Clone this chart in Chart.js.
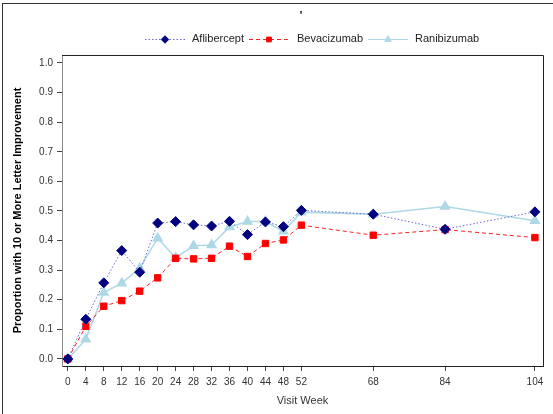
<!DOCTYPE html>
<html>
<head>
<meta charset="utf-8">
<script src="https://cdn.jsdelivr.net/npm/chart.js@4"></script>
<style>
  html, body { margin: 0; padding: 0; background: #fff; }
  #wrap { position: relative; width: 553px; height: 414px; }
  #wrap::before { content: ''; position: absolute; left: 2px; top: 3px; right: 0; bottom: 0; border-left: 1px solid #333; border-top: 1px solid #333; pointer-events: none; }
</style>
</head>
<body>
<div id="wrap"><canvas id="c" width="553" height="414"></canvas></div>
<script>
const weeks = [0, 4, 8, 12, 16, 20, 24, 28, 32, 36, 40, 44, 48, 52, 68, 84, 104];
const aflibercept = [0.000, 0.134, 0.257, 0.366, 0.293, 0.459, 0.464, 0.453, 0.449, 0.465, 0.420, 0.463, 0.447, 0.502, 0.489, 0.438, 0.497];
const bevacizumab = [0.000, 0.110, 0.178, 0.197, 0.229, 0.274, 0.340, 0.338, 0.340, 0.381, 0.346, 0.390, 0.402, 0.452, 0.418, 0.437, 0.410];
const ranibizumab = [0.000, 0.066, 0.224, 0.256, 0.306, 0.408, 0.342, 0.382, 0.385, 0.446, 0.464, 0.464, 0.431, 0.496, 0.489, 0.515, 0.467];
const yTicks = [0, 0.1, 0.2, 0.3, 0.4, 0.5, 0.6, 0.7, 0.8, 0.9, 1.0];

const pts = vals => vals.map((v, i) => ({ x: weeks[i], y: v }));
const FONT = '"Liberation Sans", Arial, sans-serif';

// legend with line + marker, plus the stray title mark and plot frame
const decor = {
  id: 'decor',
  afterDraw(chart) {
    const ctx = chart.ctx, a = chart.chartArea;
    ctx.save();
    ctx.strokeStyle = '#222';
    ctx.lineWidth = 1;
    ctx.beginPath();
    ctx.moveTo(a.left, a.top + 0.5); ctx.lineTo(a.right + 0.5, a.top + 0.5);
    ctx.lineTo(a.right + 0.5, a.bottom);
    ctx.stroke();

    ctx.fillStyle = '#000';
    ctx.font = 'bold 11px ' + FONT;
    ctx.textAlign = 'center';
    ctx.textBaseline = 'middle';
    ctx.fillText("'", 301, 16);

    const items = [{ x: 145, tx: 192 }, { x: 249, tx: 297 }, { x: 368, tx: 415 }];
    ctx.font = '11px ' + FONT;
    ctx.textAlign = 'left';
    const y = 39;
    chart.data.datasets.forEach((ds, i) => {
      const it = items[i];
      ctx.strokeStyle = ds.borderColor;
      ctx.lineWidth = 1;
      ctx.setLineDash(ds.borderDash || []);
      ctx.beginPath(); ctx.moveTo(it.x, y + 0.5); ctx.lineTo(it.x + 40, y + 0.5); ctx.stroke();
      ctx.setLineDash([]);
      ctx.fillStyle = ds.pointBackgroundColor;
      ctx.strokeStyle = ds.pointBorderColor;
      Chart.helpers.drawPoint(ctx, {
        pointStyle: ds.pointStyle, radius: ds.pointRadius * 0.75, borderWidth: 1, rotation: 0
      }, it.x + 20, y + 0.5);
      ctx.fillStyle = '#222';
      ctx.fillText(ds.label, it.tx, y);
    });
    ctx.restore();
  }
};

new Chart(document.getElementById('c'), {
  type: 'line',
  data: {
    datasets: [
      { label: 'Aflibercept', data: pts(aflibercept), borderColor: '#6a6ad8', borderWidth: 1, borderDash: [1.5, 2],
        pointStyle: 'rectRot', pointRadius: 5, pointBackgroundColor: '#000080', pointBorderColor: '#000080', order: 1 },
      { label: 'Bevacizumab', data: pts(bevacizumab), borderColor: '#ff2020', borderWidth: 1, borderDash: [4, 3],
        pointStyle: 'rect', pointRadius: 4.5, pointBackgroundColor: '#ff0000', pointBorderColor: '#ff0000', order: 2 },
      { label: 'Ranibizumab', data: pts(ranibizumab), borderColor: '#add8e6', borderWidth: 1.5,
        pointStyle: 'triangle', pointRadius: 5, pointBackgroundColor: '#add8e6', pointBorderColor: '#add8e6', order: 3 }
    ]
  },
  options: {
    responsive: false,
    animation: false,
    layout: { padding: { top: 55, right: 10, left: 0, bottom: 0 } },
    plugins: { legend: { display: false }, tooltip: { enabled: false } },
    elements: { line: { tension: 0 } },
    scales: {
      x: {
        type: 'linear', min: -1.3, max: 105.8,
        afterBuildTicks: s => { s.ticks = weeks.map(v => ({ value: v })); },
        afterFit: s => { s.height = 48; },
        grid: { drawOnChartArea: false, drawTicks: true, tickLength: 5, color: '#444' },
        border: { color: '#222', width: 1 },
        ticks: { color: '#333', font: { family: FONT, size: 10 }, padding: 5, maxRotation: 0, autoSkip: false },
        title: { display: true, text: 'Visit Week', color: '#333', font: { family: FONT, size: 11 }, padding: { top: 0, bottom: 6 } }
      },
      y: {
        min: -0.024, max: 1.027,
        afterBuildTicks: s => { s.ticks = yTicks.map(v => ({ value: v })); },
        afterFit: s => { s.width = 62; },
        grid: { drawOnChartArea: false, drawTicks: true, tickLength: 5, color: '#444' },
        border: { color: '#888', width: 1 },
        ticks: { color: '#333', font: { family: FONT, size: 10 }, padding: 4, callback: v => v.toFixed(1) },
        title: { display: true, text: 'Proportion with 10 or More Letter Improvement', color: '#000',
                 font: { family: FONT, size: 11, weight: 'bold' }, padding: { top: 11, bottom: 0 } }
      }
    }
  },
  plugins: [decor]
});
</script>
</body>
</html>
